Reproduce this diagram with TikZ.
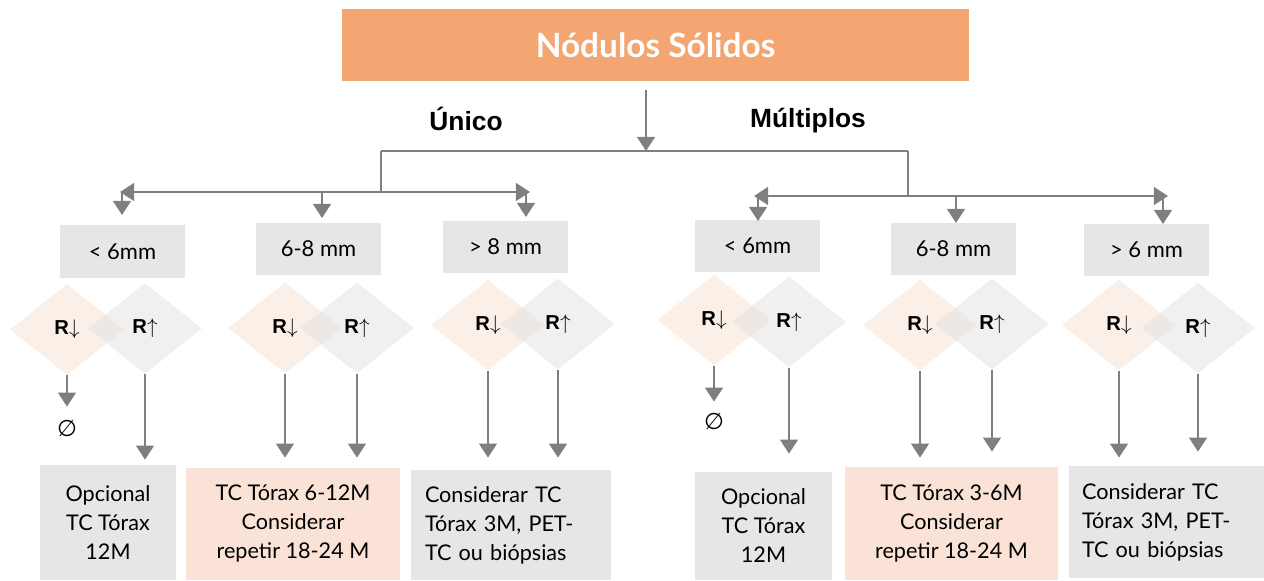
\documentclass[tikz,border=0pt]{standalone}
\usepackage{fontspec}
\setmainfont{Lato}
\newfontfamily\arialfont{Liberation Sans}
\newfontfamily\symfont{DejaVu Sans}
\usetikzlibrary{arrows.meta,shapes.geometric}
\definecolor{titleorange}{HTML}{F4A672}
\definecolor{paleorange}{HTML}{FAE3D6}
\definecolor{boxgray}{HTML}{E6E6E6}
\definecolor{arrowgray}{HTML}{7F7F7F}
\definecolor{diamorange}{HTML}{F4DECC}
\definecolor{diamgray}{HTML}{DEDEDE}
\tikzset{
  flow/.style={draw=arrowgray, line width=1.5pt},
  flowarrow/.style={flow, -{Triangle[length=8pt,width=10pt]}},
  titlebox/.style={fill=titleorange, text=white, minimum width=12.54cm, minimum height=1.44cm,
    font=\bfseries\fontsize{19}{23}\selectfont},
  branchlabel/.style={font=\arialfont\bfseries\fontsize{15}{18}\selectfont},
  sizebox/.style={fill=boxgray, minimum width=2.5cm, minimum height=1.06cm,
    font=\fontsize{12.5}{15}\selectfont},
  lowrisk/.style={diamond, fill=diamorange, fill opacity=0.45, text opacity=1,
    minimum width=2.28cm, minimum height=1.82cm, inner sep=0pt,
    font=\arialfont\bfseries\fontsize{11.5}{13}\selectfont},
  highrisk/.style={lowrisk, fill=diamgray},
  resultbox/.style={fill=boxgray, align=center, inner sep=0pt,
    font=\fontsize{12.3}{16.5}\selectfont},
  nulo/.style={font=\symfont\fontsize{13}{15}\selectfont, inner sep=1pt}
}
\newcommand{\rdown}{R\(\mathord{\downarrow}\)}
\newcommand{\rup}{R\(\mathord{\uparrow}\)}
\begin{document}
\begin{tikzpicture}[x=0.02cm, y=-0.02cm]
  \useasboundingbox (0,0) rectangle (1264,581);
  % title and branches
  \node[titlebox] (titulo) at (655.5,45) {Nódulos Sólidos};
  \node[branchlabel] (unico) at (466,119) {Único};
  \node[branchlabel] (multiplos) at (808,121) {Múltiplos};
  \coordinate (hub) at (646,151);
  \coordinate (ujoin) at (381,151);
  \coordinate (mjoin) at (908,151);
  \coordinate (usplit) at (381,192);
  \coordinate (msplit) at (908,196);
  \coordinate (uleft) at (120,192);
  \coordinate (uright) at (530,192);
  \coordinate (mleft) at (754,196);
  \coordinate (mright) at (1168,196);
  \draw[flowarrow, shorten <=1.8mm] (titulo.south -| hub) -- (hub);
  \draw[flow] (ujoin) -- (mjoin);
  \draw[flow] (ujoin) -- (usplit);
  \draw[flow] (mjoin) -- (msplit);
  \draw[flowarrow] (usplit) -- (uleft);
  \draw[flowarrow] (usplit) -- (uright);
  \draw[flowarrow] (msplit) -- (mleft);
  \draw[flowarrow] (msplit) -- (mright);
  % unico: size boxes
  \node[sizebox] (u1) at (122.5,251.5) {< 6mm};
  \node[sizebox] (u2) at (318.5,249) {6-8 mm};
  \node[sizebox] (u3) at (505.5,247) {> 8 mm};
  \draw[flowarrow] (122,192) -- (122,215);
  \draw[flowarrow] (322,192) -- (322,218);
  \draw[flowarrow] (526,192) -- (526,217);
  % multiplos: size boxes
  \node[sizebox] (m1) at (757.5,246) {< 6mm};
  \node[sizebox] (m2) at (953.5,249) {6-8 mm};
  \node[sizebox] (m3) at (1146.5,250) {> 6 mm};
  \draw[flowarrow] (758,196) -- (758,221);
  \draw[flowarrow] (956,196) -- (956,223);
  \draw[flowarrow] (1163,196) -- (1163,224);
  % unico: risk diamonds
  \node[lowrisk] (u1low) at (67,329.5) {\rdown};
  \node[highrisk] (u1high) at (145,328.5) {\rup};
  \node[lowrisk] (u2low) at (285,328) {\rdown};
  \node[highrisk] (u2high) at (357,328) {\rup};
  \node[lowrisk] (u3low) at (488,325) {\rdown};
  \node[highrisk] (u3high) at (558,324) {\rup};
  % multiplos: risk diamonds
  \node[lowrisk] (m1low) at (714,320) {\rdown};
  \node[highrisk] (m1high) at (789,322) {\rup};
  \node[lowrisk] (m2low) at (920,325) {\rdown};
  \node[highrisk] (m2high) at (992,324) {\rup};
  \node[lowrisk] (m3low) at (1119,325) {\rdown};
  \node[highrisk] (m3high) at (1198,328) {\rup};
  % results
  \node[nulo] (u1nulo) at (67,428) {∅};
  \node[nulo] (m1nulo) at (714,421) {∅};
  \node[resultbox, minimum width=2.72cm, minimum height=2.3cm] (u1res) at (108,522.5)
    {Opcional\\TC Tórax\\12M};
  \node[resultbox, fill=paleorange, minimum width=4.28cm, minimum height=2.24cm] (u2res) at (293,524)
    {TC Tórax 6-12M\\Considerar\\repetir 18-24 M};
  \node[resultbox, align=left, inner xsep=0.28cm, text width=3.44cm, minimum height=2.2cm] (u3res) at (511,525)
    {Considerar TC\\Tórax 3M, PET-\\TC ou biópsias};
  \node[resultbox, minimum width=2.74cm, minimum height=2.16cm] (m1res) at (763.5,526)
    {Opcional\\TC Tórax\\12M};
  \node[resultbox, fill=paleorange, minimum width=4.26cm, minimum height=2.26cm] (m2res) at (951.5,523.5)
    {TC Tórax 3-6M\\Considerar\\repetir 18-24 M};
  \node[resultbox, align=left, inner xsep=0.26cm, text width=3.38cm, minimum height=2.24cm] (m3res) at (1166.5,522)
    {Considerar TC\\Tórax 3M, PET-\\TC ou biópsias};
  % unico: arrows to results
  \draw[flowarrow, shorten >=2.2mm] (u1low.south) -- (u1nulo.north);
  \draw[flowarrow, shorten >=0.1cm] (u1high.south) -- (u1high.south |- u1res.north);
  \draw[flowarrow, shorten >=0.2cm] (u2low.south) -- (u2low.south |- u2res.north);
  \draw[flowarrow, shorten >=0.2cm] (u2high.south) -- (u2high.south |- u2res.north);
  \draw[flowarrow, shorten >=0.24cm] (u3low.south) -- (u3low.south |- u3res.north);
  \draw[flowarrow, shorten >=0.24cm] (u3high.south) -- (u3high.south |- u3res.north);
  % multiplos: arrows to results
  \draw[flowarrow, shorten >=1.8mm] (m1low.south) -- (m1nulo.north);
  \draw[flowarrow, shorten >=0.36cm] (m1high.south) -- (m1high.south |- m1res.north);
  \draw[flowarrow, shorten >=0.18cm] (m2low.south) -- (m2low.south |- m2res.north);
  \draw[flowarrow, shorten >=0.3cm] (m2high.south) -- (m2high.south |- m2res.north);
  \draw[flowarrow, shorten >=0.16cm] (m3low.south) -- (m3low.south |- m3res.north);
  \draw[flowarrow, shorten >=0.28cm] (m3high.south) -- (m3high.south |- m3res.north);
\end{tikzpicture}
\end{document}
